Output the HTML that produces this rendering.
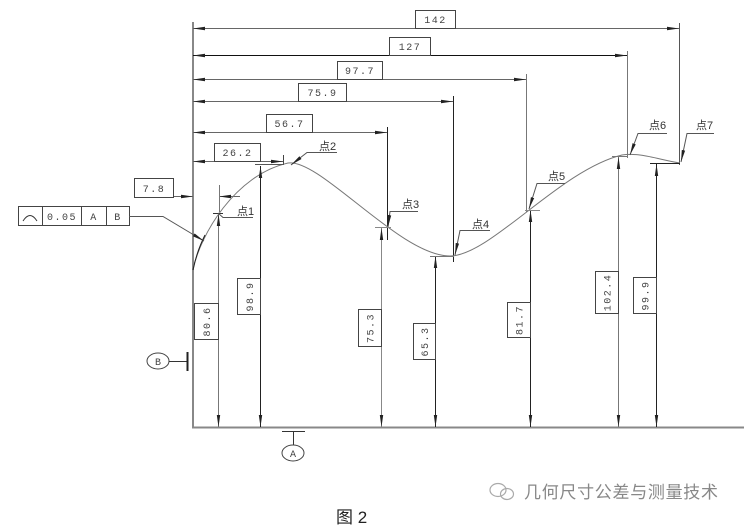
<!DOCTYPE html>
<html><head><meta charset="utf-8">
<style>
html,body{margin:0;padding:0;background:#fff;width:746px;height:526px;overflow:hidden}
svg{display:block}
.t{font-family:"Liberation Mono",monospace;font-size:10px;fill:#444;letter-spacing:1.5px}
.c{font-family:"Liberation Sans","Noto Sans CJK SC",sans-serif;font-size:11px;fill:#333}
</style></head><body>
<svg width="746" height="526" viewBox="0 0 746 526" xmlns="http://www.w3.org/2000/svg">
<defs>
<marker id="a" viewBox="0 0 12 4" refX="12" refY="2" markerWidth="12" markerHeight="4" markerUnits="userSpaceOnUse" orient="auto-start-reverse"><path d="M0,0.3 L12,2 L0,3.7 Z" fill="#222"/></marker>
</defs>
<g stroke="#888" fill="none">
<line x1="193" y1="22" x2="193" y2="428" stroke-width="2"/>
<line x1="192" y1="427.5" x2="744" y2="427.5" stroke-width="2"/>
</g>
<g stroke="#666" stroke-width="1" fill="none">
<line x1="193" y1="28.5" x2="679" y2="28.5" marker-start="url(#a)" marker-end="url(#a)"/>
<line x1="193" y1="55.5" x2="627" y2="55.5" stroke="#111" marker-start="url(#a)" marker-end="url(#a)"/>
<line x1="193" y1="79.5" x2="526" y2="79.5" marker-start="url(#a)" marker-end="url(#a)"/>
<line x1="193" y1="101.5" x2="453" y2="101.5" marker-start="url(#a)" marker-end="url(#a)"/>
<line x1="193" y1="132.5" x2="387" y2="132.5" marker-start="url(#a)" marker-end="url(#a)"/>
<line x1="193" y1="161.5" x2="283" y2="161.5" marker-start="url(#a)" marker-end="url(#a)"/>
<line x1="173" y1="196.5" x2="193" y2="196.5" marker-end="url(#a)"/>
<line x1="240" y1="196.5" x2="219" y2="196.5" marker-end="url(#a)"/>
<line x1="679.5" y1="23" x2="679.5" y2="165" stroke="#555"/>
<line x1="627.5" y1="51" x2="627.5" y2="158" stroke="#777"/>
<line x1="526.5" y1="74" x2="526.5" y2="212" stroke="#777"/>
<line x1="453.5" y1="96" x2="453.5" y2="262" stroke="#222"/>
<line x1="387.5" y1="127" x2="387.5" y2="240" stroke="#222"/>
<line x1="283.5" y1="155" x2="283.5" y2="165" stroke="#444"/>
<line x1="219.5" y1="185" x2="219.5" y2="212" stroke="#777"/>
</g>
<g fill="#fff" stroke="#444" stroke-width="1">
<rect x="415.5" y="10.5" width="40" height="18"/>
<rect x="389.5" y="37.5" width="41" height="18"/>
<rect x="337.5" y="61.5" width="45" height="18"/>
<rect x="298.5" y="83.5" width="48" height="18"/>
<rect x="266.5" y="114.5" width="46" height="18"/>
<rect x="214.5" y="143.5" width="46" height="18"/>
<rect x="134.5" y="178.5" width="39" height="19"/>
</g>
<g class="t" text-anchor="middle">
<text x="435.5" y="23">142</text>
<text x="410" y="50">127</text>
<text x="360" y="74">97.7</text>
<text x="322.5" y="96">75.9</text>
<text x="289.5" y="127">56.7</text>
<text x="237.5" y="156">26.2</text>
<text x="154" y="192">7.8</text>
</g>
<path d="M193,270 C200,235 235,175 288,163 C320,158 400,256 450,256 C490,256 560,170 622,155 C640,152 660,160 680,163" fill="none" stroke="#777" stroke-width="1"/>
<path d="M193,270 C196,255 200,245 205,235" fill="none" stroke="#222" stroke-width="1"/>
<g stroke="#333" stroke-width="1" fill="none">
<line x1="218.5" y1="214" x2="218.5" y2="427" marker-start="url(#a)" marker-end="url(#a)" stroke="#777"/>
<line x1="260.5" y1="166" x2="260.5" y2="427" marker-start="url(#a)" marker-end="url(#a)" stroke="#222"/>
<line x1="381.5" y1="228" x2="381.5" y2="427" marker-start="url(#a)" marker-end="url(#a)" stroke="#888"/>
<line x1="435.5" y1="256" x2="435.5" y2="427" marker-start="url(#a)" marker-end="url(#a)" stroke="#222"/>
<line x1="530.5" y1="210" x2="530.5" y2="427" marker-start="url(#a)" marker-end="url(#a)" stroke="#222"/>
<line x1="618.5" y1="157" x2="618.5" y2="427" marker-start="url(#a)" marker-end="url(#a)" stroke="#777"/>
<line x1="656.5" y1="164" x2="656.5" y2="427" marker-start="url(#a)" marker-end="url(#a)" stroke="#222"/>
<line x1="213" y1="213.5" x2="223" y2="213.5"/>
<line x1="255" y1="164.5" x2="284" y2="164.5" stroke="#555"/>
<line x1="375" y1="227.5" x2="391" y2="227.5" stroke="#888"/>
<line x1="430" y1="256.5" x2="454" y2="256.5" stroke="#777"/>
<line x1="525" y1="210.5" x2="540" y2="210.5" stroke="#888"/>
<line x1="612" y1="156.5" x2="628" y2="156.5" stroke="#777"/>
<line x1="650" y1="163.5" x2="680" y2="163.5" stroke="#222"/>
</g>
<g fill="#fff" stroke="#444" stroke-width="1">
<rect x="194.5" y="303.5" width="24" height="36"/>
<rect x="237.5" y="278.5" width="23" height="36"/>
<rect x="358.5" y="309.5" width="23" height="37"/>
<rect x="413.5" y="323.5" width="22" height="36"/>
<rect x="507.5" y="302.5" width="23" height="35"/>
<rect x="595.5" y="271.5" width="23" height="42"/>
<rect x="633.5" y="277.5" width="23" height="36"/>
</g>
<g class="t" text-anchor="middle">
<text transform="translate(210,321.5) rotate(-90)">80.6</text>
<text transform="translate(253,296.5) rotate(-90)">98.9</text>
<text transform="translate(373.5,328) rotate(-90)">75.3</text>
<text transform="translate(428,341.5) rotate(-90)">65.3</text>
<text transform="translate(522.5,320) rotate(-90)">81.7</text>
<text transform="translate(610.5,292.5) rotate(-90)">102.4</text>
<text transform="translate(648.5,295.5) rotate(-90)">99.9</text>
</g>
<g stroke="#555" stroke-width="1" fill="none">
<polyline points="253,217.5 223,217.5 218,213"/>
<polyline points="337,152.5 307,152.5 291,165" marker-end="url(#a)"/>
<polyline points="418,211.5 390,211.5 388,227" marker-end="url(#a)"/>
<polyline points="490,230.5 460,230.5 455,255" marker-end="url(#a)"/>
<polyline points="565,183.5 537,183.5 529,209" marker-end="url(#a)"/>
<polyline points="667,133.5 638,133.5 630,155" marker-end="url(#a)"/>
<polyline points="714,133.5 687,133.5 681,162" marker-end="url(#a)"/>
</g>
<g class="c">
<text x="237" y="215">点1</text>
<text x="319" y="150">点2</text>
<text x="402" y="208">点3</text>
<text x="472" y="228">点4</text>
<text x="548" y="180">点5</text>
<text x="649" y="129">点6</text>
<text x="696" y="129">点7</text>
</g>
<g fill="#fff" stroke="#444" stroke-width="1">
<rect x="18.5" y="206.5" width="111" height="19"/>
<line x1="42.5" y1="206" x2="42.5" y2="226"/>
<line x1="81.5" y1="206" x2="81.5" y2="226"/>
<line x1="106.5" y1="206" x2="106.5" y2="226"/>
</g>
<path d="M23,221 Q30,210 37,221" fill="none" stroke="#333" stroke-width="1"/>
<g class="t" text-anchor="middle">
<text x="62" y="220">0.05</text>
<text x="94" y="220">A</text>
<text x="118" y="220">B</text>
</g>
<polyline points="129,216.5 163,216.5 204,241" fill="none" stroke="#555" stroke-width="1" marker-end="url(#a)"/>
<ellipse cx="158" cy="361" rx="11" ry="8" fill="#fff" stroke="#444"/>
<text x="158" y="365" class="t" text-anchor="middle" style="letter-spacing:0">B</text>
<line x1="169" y1="361.5" x2="187" y2="361.5" stroke="#333"/>
<line x1="187.5" y1="352" x2="187.5" y2="371" stroke="#222" stroke-width="2"/>
<line x1="282" y1="431.5" x2="305" y2="431.5" stroke="#333"/>
<line x1="293.5" y1="431" x2="293.5" y2="445" stroke="#333"/>
<ellipse cx="293" cy="453" rx="11" ry="8" fill="#fff" stroke="#444"/>
<text x="293" y="457" class="t" text-anchor="middle" style="letter-spacing:0">A</text>
<text x="336" y="523" style="font-family:'Liberation Sans','Noto Sans CJK SC',sans-serif;font-size:17px;fill:#222">图 2</text>
<g fill="none" stroke="#aaa" stroke-width="1.2">
<ellipse cx="498" cy="490" rx="8" ry="6.5"/>
<ellipse cx="507" cy="494" rx="6.5" ry="5.5"/>
</g>
<text x="524" y="498" style="font-family:'Liberation Sans','Noto Sans CJK SC',sans-serif;font-size:17px;letter-spacing:0.7px;fill:#888">几何尺寸公差与测量技术</text>
</svg>
</body></html>
